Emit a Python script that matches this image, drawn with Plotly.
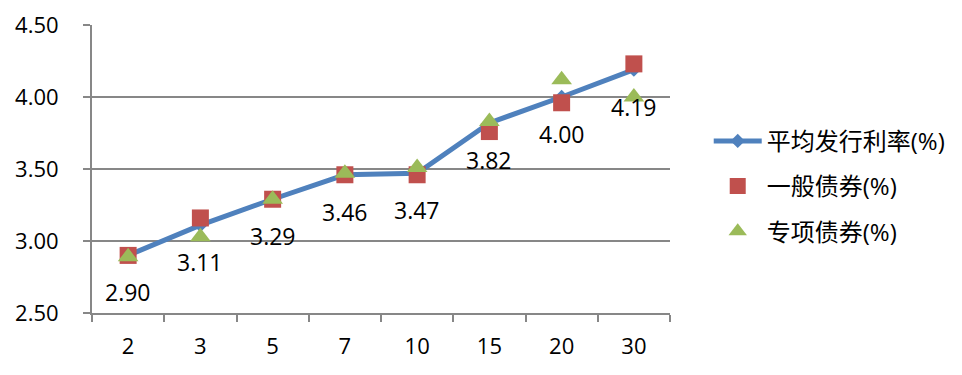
import plotly.graph_objects as go

categories = ["2", "3", "5", "7", "10", "15", "20", "30"]
avg_rate = [2.90, 3.11, 3.29, 3.46, 3.47, 3.82, 4.00, 4.19]
general_bond = [2.90, 3.16, 3.29, 3.46, 3.46, 3.76, 3.96, 4.23]
special_bond = [2.89, 3.03, 3.29, 3.47, 3.51, 3.83, 4.12, 4.00]
avg_labels = ["2.90", "3.11", "3.29", "3.46", "3.47", "3.82", "4.00", "4.19"]
y_ticks = [2.5, 3.0, 3.5, 4.0, 4.5]
y_ticklabels = ["2.50", "3.00", "3.50", "4.00", "4.50"]

FONT = "Open Sans, Noto Sans CJK SC, sans-serif"

fig = go.Figure()
fig.add_trace(go.Scatter(
    x=categories, y=avg_rate, mode="lines+markers", name="平均发行利率(%)",
    line=dict(color="#4F81BD", width=5),
    marker=dict(symbol="diamond", size=11, color="#4F81BD"),
    legendgroup="a",
))
fig.add_trace(go.Scatter(
    x=categories, y=general_bond, mode="markers", name="一般债券(%)",
    marker=dict(symbol="square", size=17, color="#C0504D"),
    legendgroup="b",
))
fig.add_trace(go.Scatter(
    x=categories, y=special_bond, mode="markers", name="专项债券(%)",
    marker=dict(symbol="triangle-up", size=18, color="#9BBB59"),
    legendgroup="c",
))

for i, (v, t) in enumerate(zip(avg_rate, avg_labels)):
    fig.add_annotation(x=i, y=v, text=t, showarrow=False, yshift=-37,
                       font=dict(size=23, color="#000000", family=FONT))

fig.update_layout(
    width=962, height=375,
    margin=dict(l=84, r=300, t=17, b=70, autoexpand=False),
    paper_bgcolor="white", plot_bgcolor="white",
    font=dict(family=FONT, color="#000000"),
    legend=dict(x=1.067, y=0.44, xanchor="left", yanchor="middle",
                font=dict(size=24, color="#000000"), itemwidth=48,
                traceorder="grouped", tracegroupgap=11),
    showlegend=True,
)
fig.update_xaxes(
    type="category", tickson="boundaries", ticks="outside", ticklen=7,
    tickcolor="#878787", tickwidth=2, showline=True, linecolor="#878787",
    linewidth=2, showgrid=False, tickfont=dict(size=22, color="#000000"),
    range=[-0.5, 7.5], ticklabelstandoff=13,
)
fig.update_yaxes(
    range=[2.5, 4.5], tickvals=y_ticks, ticktext=y_ticklabels,
    showgrid=True, gridcolor="#878787", gridwidth=2, showline=True,
    linecolor="#878787", linewidth=2, ticks="outside", ticklen=7,
    tickcolor="#878787", tickwidth=2, tickfont=dict(size=22, color="#000000"),
    zeroline=False, ticklabelstandoff=20,
)

fig.write_html("out.html")
